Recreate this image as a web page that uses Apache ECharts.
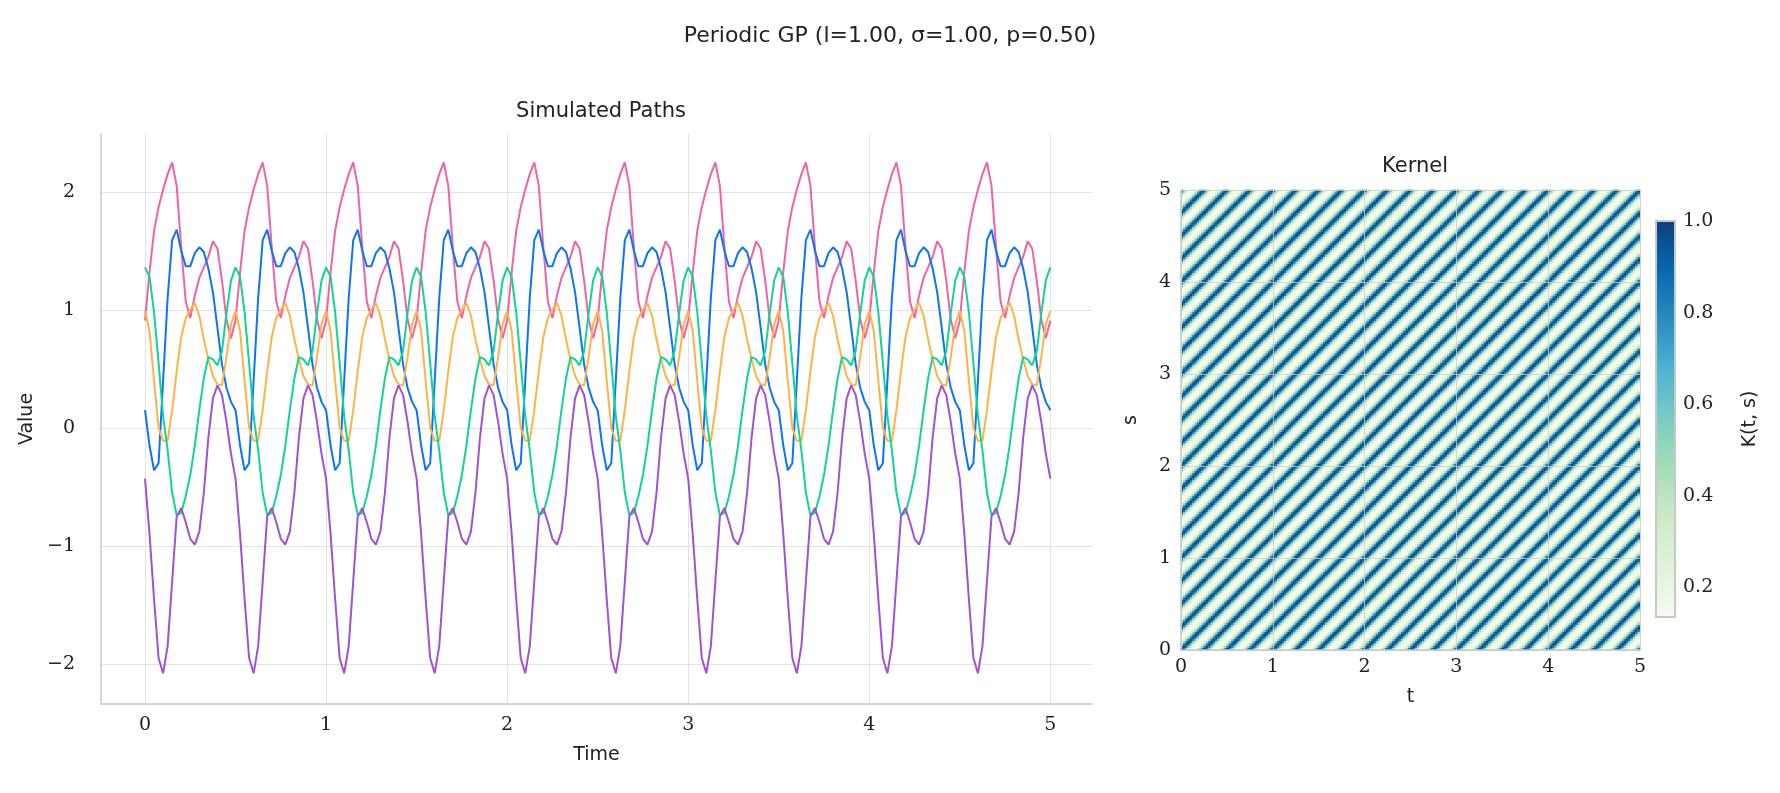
<!DOCTYPE html>
<html><head><meta charset="utf-8">
<script src="https://cdn.jsdelivr.net/npm/echarts@6/dist/echarts.min.js"></script>
<style>html,body{margin:0;padding:0;background:#fff}#c{width:1780px;height:793px}</style>
</head><body><div id="c"></div>
<script>
// One period (p = 0.5) of each path, read at steps of 0.025 from t = 0
const periodT = [0,0.025,0.05,0.075,0.1,0.125,0.15,0.175,0.2,0.225,0.25,0.275,0.3,0.325,0.35,0.375,0.4,0.425,0.45,0.475];
const blue   = [0.15,-0.15,-0.36,-0.30,0.40,1.10,1.59,1.68,1.50,1.37,1.37,1.48,1.53,1.49,1.35,1.15,0.85,0.54,0.34,0.22];
const pink   = [0.91,1.32,1.67,1.87,2.02,2.15,2.25,2.05,1.53,1.07,0.93,1.12,1.27,1.36,1.45,1.58,1.52,1.25,0.92,0.76];
const orange = [0.99,0.82,0.40,0.00,-0.11,-0.11,0.15,0.48,0.77,0.93,1.00,1.06,0.95,0.75,0.58,0.44,0.37,0.36,0.60,0.88];
const green  = [1.36,1.28,0.98,0.55,0.10,-0.19,-0.55,-0.74,-0.72,-0.58,-0.40,-0.15,0.15,0.42,0.60,0.58,0.53,0.65,0.97,1.25];
const purple = [-0.43,-0.90,-1.45,-1.95,-2.08,-1.85,-1.30,-0.75,-0.68,-0.80,-0.94,-0.99,-0.88,-0.55,-0.08,0.25,0.36,0.28,0.05,-0.22];
const nPeriods = 10;
// Kernel value by lag index (lag = k*0.025) over one stripe period
const kernelProfile = [1.0,0.83,0.50,0.27,0.16,0.135,0.16,0.27,0.50,0.83];
const kernelCells = 200;
const xTicks = [0,1,2,3,4,5];
const yTicks = [-2,-1,0,1,2];
const cbTicks = [0.2,0.4,0.6,0.8,1.0];
const colors = ['#f062a8','#0a75f5','#ffb347','#10d496','#a052d2'];
const gnbu = ['#f7fcf0','#e0f3db','#ccebc5','#a8ddb5','#7bccc4','#4eb3d3','#2b8cbe','#0868ac','#084081'];

function tile(arr){
  const out=[];
  for(let p=0;p<nPeriods;p++) for(let i=0;i<arr.length;i++) out.push([+(p*0.5+periodT[i]).toFixed(3), arr[i]]);
  out.push([5, arr[0]]);
  return out;
}
const heat=[];
for(let i=0;i<kernelCells;i++) for(let j=0;j<kernelCells;j++){
  const k=(((i-j)%10)+10)%10; heat.push([i,j,kernelProfile[k]]);
}
const cats=[...Array(kernelCells).keys()];
const serif='"DejaVu Serif", serif', sans='"DejaVu Sans", sans-serif';
const minus=v=>String(v).replace('-','\u2212');
const grid='#e3e3e3', spine='#c8c8c8';
const cb={x:1656,y:221,w:19,h:396};

const chart=echarts.init(document.getElementById('c'),null,{renderer:'canvas'});
chart.setOption({
  animation:false,
  title:[
    {text:'Periodic GP (l=1.00, \u03c3=1.00, p=0.50)',left:885,top:20,textAlign:'center',textStyle:{fontFamily:sans,fontSize:22,fontWeight:'normal',color:'#222'}},
    {text:'Simulated Paths',left:596,top:96,textAlign:'center',textStyle:{fontFamily:sans,fontSize:21,fontWeight:'normal',color:'#222'}},
    {text:'Kernel',left:1410,top:151,textAlign:'center',textStyle:{fontFamily:sans,fontSize:21,fontWeight:'normal',color:'#222'}}
  ],
  grid:[
    {left:101,top:134,width:991,height:570},
    {left:1181,top:190,width:459,height:460},
    {left:cb.x,top:cb.y,width:cb.w,height:cb.h}
  ],
  visualMap:{type:'continuous',show:false,min:0.1353,max:1.0,seriesIndex:5,inRange:{color:gnbu}},
  xAxis:[
    {gridIndex:0,type:'value',min:-0.243,max:5.23,name:'Time',nameLocation:'middle',nameGap:42,
     nameTextStyle:{fontFamily:sans,fontSize:19,color:'#222'},
     axisLine:{show:true,onZero:false,lineStyle:{color:spine,width:1.5}},axisTick:{show:false,customValues:xTicks},
     axisLabel:{customValues:xTicks,fontFamily:serif,fontSize:19,color:'#222',margin:12},
     splitLine:{show:true,lineStyle:{color:grid}}},
    {gridIndex:1,type:'category',data:cats,show:false,position:'top'},
    {gridIndex:1,type:'value',min:0,max:5,interval:1,z:5,position:'bottom',name:'t',nameLocation:'middle',nameGap:38,
     nameTextStyle:{fontFamily:sans,fontSize:19,color:'#222'},
     axisLine:{show:true,onZero:false,lineStyle:{color:spine,width:1.5}},axisTick:{show:false},
     axisLabel:{fontFamily:serif,fontSize:19,color:'#222',margin:8},
     splitLine:{show:true,lineStyle:{color:'rgba(205,205,205,0.8)'}}},
    {gridIndex:2,type:'value',show:false,min:0,max:1}
  ],
  yAxis:[
    {gridIndex:0,type:'value',min:-2.34,max:2.49,name:'Value',nameLocation:'middle',nameGap:62,
     nameTextStyle:{fontFamily:sans,fontSize:19,color:'#222'},
     axisLine:{show:true,onZero:false,lineStyle:{color:spine,width:1.5}},axisTick:{show:false,customValues:yTicks},
     axisLabel:{customValues:yTicks,formatter:minus,fontFamily:serif,fontSize:19,color:'#222',margin:26},
     splitLine:{show:true,lineStyle:{color:grid}}},
    {gridIndex:1,type:'category',data:cats,show:false,position:'right'},
    {gridIndex:1,type:'value',min:0,max:5,interval:1,z:5,position:'left',name:'s',nameLocation:'middle',nameGap:40,
     nameTextStyle:{fontFamily:sans,fontSize:19,color:'#222'},
     axisLine:{show:true,onZero:false,lineStyle:{color:spine,width:1.5}},axisTick:{show:false},
     axisLabel:{fontFamily:serif,fontSize:19,color:'#222',margin:10},
     splitLine:{show:true,lineStyle:{color:'rgba(205,205,205,0.8)'}}},
    {gridIndex:2,type:'value',min:0.1353,max:1.0,position:'right',name:'K(t, s)',nameLocation:'middle',nameGap:66,nameRotate:90,
     nameTextStyle:{fontFamily:sans,fontSize:19,color:'#222'},
     axisLine:{show:false},axisTick:{show:false,customValues:cbTicks},
     splitLine:{show:false},
     axisLabel:{customValues:cbTicks,formatter:v=>v.toFixed(1),fontFamily:serif,fontSize:19,color:'#222',margin:8}}
  ],
  series:[
    ...[pink,blue,orange,green,purple].map((d,i)=>({type:'line',xAxisIndex:0,yAxisIndex:0,data:tile(d),
      showSymbol:false,smooth:false,lineStyle:{width:2,color:colors[i]},itemStyle:{color:colors[i]},z:2+i})),
    {type:'heatmap',xAxisIndex:1,yAxisIndex:1,data:heat,progressive:0,z:1}
  ],
  graphic:[{type:'rect',shape:{x:cb.x,y:cb.y,width:cb.w,height:cb.h},
    style:{fill:new echarts.graphic.LinearGradient(0,1,0,0,gnbu.map((c,i)=>({offset:i/(gnbu.length-1),color:c}))),stroke:spine,lineWidth:2},z:100}]
});
</script></body></html>
